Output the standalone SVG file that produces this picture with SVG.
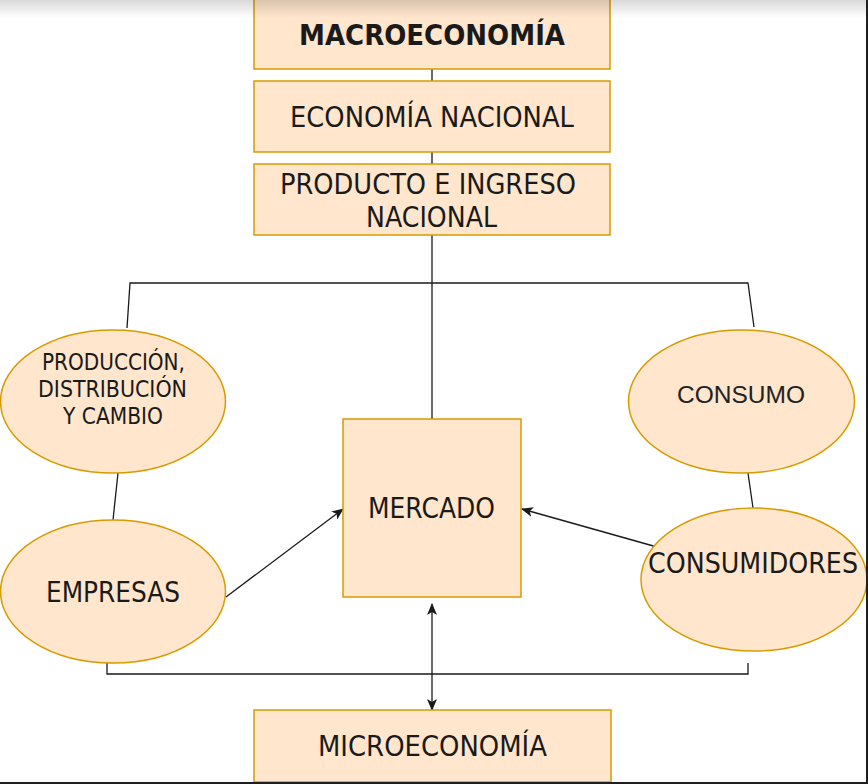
<svg xmlns="http://www.w3.org/2000/svg" width="868" height="784" viewBox="0 0 868 784">
<defs>
<style>
.box{fill:#ffe6cc;stroke:#d79b00;stroke-width:1.5}
.ln{fill:none;stroke:#1a1a1a;stroke-width:1.3}
.t{font-family:"DejaVu Sans",Tahoma,sans-serif;fill:#1a1a1a;text-anchor:middle}
.ta{font-family:"Liberation Sans",Arial,sans-serif;fill:#222;text-anchor:middle}
</style>
<marker id="arr" viewBox="0 0 12 10" refX="11" refY="5" markerWidth="12" markerHeight="10" markerUnits="userSpaceOnUse" orient="auto-start-reverse">
<path d="M0,0 L12,5 L0,10 L3,5 z" fill="#1a1a1a"/>
</marker>
<linearGradient id="shade" x1="0" y1="0" x2="0" y2="1">
<stop offset="0" stop-color="#000" stop-opacity="0.15"/>
<stop offset="1" stop-color="#000" stop-opacity="0"/>
</linearGradient>
</defs>
<rect width="868" height="784" fill="#fff"/>
<g id="connectors">
<path class="ln" d="M432,69 V81 M432,152 V164 M432,235 V419"/>
<path class="ln" d="M127,328 L130,283 H748 L754,327"/>
<path class="ln" d="M118,473 L113,520"/>
<path class="ln" d="M748,473 L753,508"/>
<path class="ln" d="M107,663 V674 H748 V663"/>
<path class="ln" d="M226,597 L343,509" marker-end="url(#arr)"/>
<path class="ln" d="M657,547 L522,509" marker-end="url(#arr)"/>
<path class="ln" d="M432,604 V710" marker-start="url(#arr)" marker-end="url(#arr)"/>
</g>
<g id="macroeconomia">
<rect class="box" x="254" y="-2" width="356" height="71"/>
<text class="t" x="432" y="45" font-size="29" font-weight="bold" textLength="266" lengthAdjust="spacingAndGlyphs">MACROECONOMÍA</text>
</g>
<g id="economia-nacional">
<rect class="box" x="254" y="81" width="356" height="71"/>
<text class="t" x="432" y="127" font-size="27.5" textLength="284" lengthAdjust="spacingAndGlyphs">ECONOMÍA NACIONAL</text>
</g>
<g id="producto-ingreso">
<rect class="box" x="254" y="164" width="356" height="71"/>
<text class="t" x="428" y="194" font-size="28" textLength="296" lengthAdjust="spacingAndGlyphs">PRODUCTO E INGRESO</text>
<text class="t" x="431.5" y="227" font-size="28" textLength="131" lengthAdjust="spacingAndGlyphs">NACIONAL</text>
</g>
<g id="produccion">
<ellipse class="box" cx="113" cy="401.5" rx="112.5" ry="71.5"/>
<text class="t" x="113.5" y="370" font-size="22.5" textLength="143" lengthAdjust="spacingAndGlyphs">PRODUCCIÓN,</text>
<text class="t" x="112.5" y="397" font-size="22.5" textLength="149" lengthAdjust="spacingAndGlyphs">DISTRIBUCIÓN</text>
<text class="t" x="113" y="424" font-size="22.5" textLength="100" lengthAdjust="spacingAndGlyphs">Y CAMBIO</text>
</g>
<g id="consumo">
<ellipse class="box" cx="741.5" cy="401.5" rx="113" ry="71.5"/>
<text class="ta" x="741" y="403" font-size="24.5">CONSUMO</text>
</g>
<g id="mercado">
<rect class="box" x="343" y="419" width="178" height="178"/>
<text class="t" x="431.5" y="518" font-size="28.5" textLength="127" lengthAdjust="spacingAndGlyphs">MERCADO</text>
</g>
<g id="empresas">
<ellipse class="box" cx="113" cy="591.5" rx="112.5" ry="71.5"/>
<text class="t" x="113" y="602" font-size="28.5" textLength="134" lengthAdjust="spacingAndGlyphs">EMPRESAS</text>
</g>
<g id="consumidores">
<ellipse class="box" cx="754" cy="579.5" rx="113" ry="71.5"/>
<text class="t" x="753" y="573" font-size="28" textLength="210" lengthAdjust="spacingAndGlyphs">CONSUMIDORES</text>
</g>
<g id="microeconomia">
<rect class="box" x="254" y="710" width="357" height="72"/>
<text class="t" x="432.5" y="756" font-size="28.5" textLength="229" lengthAdjust="spacingAndGlyphs">MICROECONOMÍA</text>
</g>
<rect x="0" y="0" width="868" height="18" fill="url(#shade)"/>
<rect x="866" y="0" width="2" height="784" fill="#1e1e1e"/>
<rect x="0" y="782" width="868" height="2" fill="#1e1e1e"/>
</svg>
